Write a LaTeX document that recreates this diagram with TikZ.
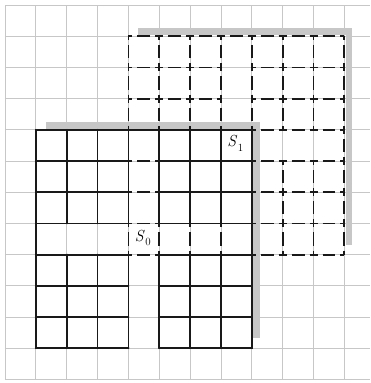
\documentclass[tikz,border=0pt]{standalone}
\usepackage{fontspec}
\usetikzlibrary{calc}
\newcommand\lblS[1]{\textit{S}\kern0.5pt\raisebox{-0.3em}{\fontsize{11}{11}\selectfont #1}}
\begin{document}
\begin{tikzpicture}[x=30.85pt,y={(0pt,-31.2pt)},
  bggrid/.style={draw=black!22, line width=0.7pt},
  solidln/.style={draw=black!90, line width=1.8pt, line cap=round},
  hdash/.style={draw=black!90, line width=1.8pt, dash pattern=on 12.85pt off 5pt on 8pt off 5pt, dash phase=21.85pt},
  vdash/.style={draw=black!90, line width=1.8pt, dash pattern=on 13.2pt off 5pt on 8pt off 5pt, dash phase=22.2pt},
  shadebar/.style={draw=black!22, line width=6.5pt, line join=miter},
  lbl/.style={inner sep=0pt, font=\fontsize{16}{18}\selectfont}]
\coordinate (o) at (0,0);
\useasboundingbox ($(o)+(-5pt,5pt)$) rectangle ($(o)+(365pt,-378pt)$);
% background grid
\foreach \i in {0,...,11} \draw[bggrid] (\i,0) -- (\i,12);
\foreach \j in {0,...,12} \draw[bggrid] (0,\j) -- (11.84,\j);
% corners
\coordinate (a0) at (1,4); \coordinate (b0) at (8,4); \coordinate (c0) at (8,11);
\coordinate (a1) at (4,1); \coordinate (b1) at (11,1); \coordinate (c1) at (11,8);
% shadows
\draw[shadebar] ($(a1)+(10pt,4.5pt)$) -- ($(b1)+(4.5pt,4.5pt)$) -- ($(c1)+(4.5pt,10pt)$);
\draw[shadebar] ($(a0)+(10pt,4.5pt)$) -- ($(b0)+(4.5pt,4.5pt)$) -- ($(c0)+(4.5pt,10pt)$);
% S1 dashed
\foreach \bx/\by in {4/1,8/1,4/5,8/5} {
  \foreach \k in {0,...,3} {
    \draw[hdash] (\bx,\by+\k) -- (\bx+3,\by+\k);
    \draw[vdash] (\bx+\k,\by) -- (\bx+\k,\by+3);
  }
}
\draw[hdash] (4,1) -- (11,1);
\draw[hdash] (4,8) -- (11,8);
\draw[vdash] (4,1) -- (4,8);
\draw[vdash] (11,1) -- (11,8);
% S0 solid
\foreach \bx/\by in {1/4,5/4,1/8,5/8} {
  \foreach \k in {0,...,3} {
    \draw[solidln] (\bx,\by+\k) -- (\bx+3,\by+\k);
    \draw[solidln] (\bx+\k,\by) -- (\bx+\k,\by+3);
  }
}
\draw[solidln] (4,11) -- (1,11) -- (1,4) -- (8,4) -- (8,11) -- (5,11);
% labels
\node[lbl] (s0) at ($(4.5,7.5)+(-1pt,1pt)$) {\lblS{0}};
\node[lbl] (s1) at ($(7.5,4.5)+(-1pt,2pt)$) {\lblS{1}};
\end{tikzpicture}
\end{document}
